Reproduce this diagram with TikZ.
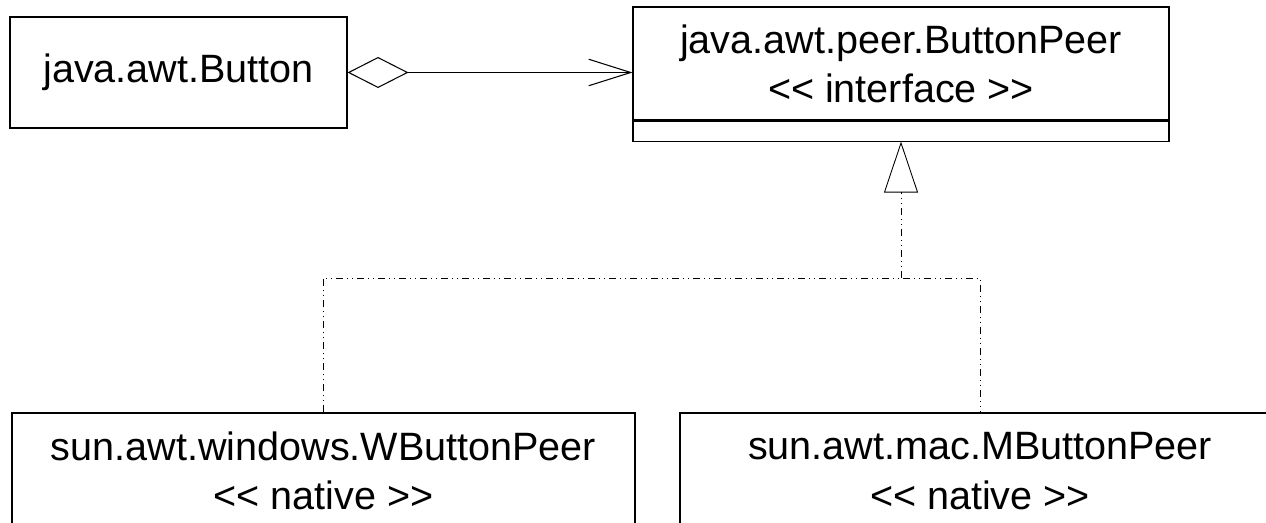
\documentclass[tikz,border=0pt]{standalone}
\usepackage{fontspec}
\setmainfont{Liberation Sans}
\usetikzlibrary{positioning,arrows.meta}

\begin{document}
\begin{tikzpicture}[
    cls/.style={rectangle, draw, line width=0.6pt, align=center, inner sep=0pt, font=\fontsize{22.5}{28}\selectfont},
    aggr/.style={line width=0.6pt, {Diamond[open, length=1.22cm, width=0.62cm]}-{Straight Barb[length=0.84cm, width=0.53cm]}},
    realize/.style={line width=0.5pt, dash pattern=on 0.14cm off 0.08cm on 0.02cm off 0.08cm on 0.02cm off 0.08cm}
]
    \useasboundingbox (0,0) rectangle (25.32,-10.46);

    % Button
    \node[cls, minimum width=6.74cm, minimum height=2.22cm] (button) at (3.57,-1.45) {java.awt.Button};

    % ButtonPeer interface
    \node[cls, minimum width=10.72cm, minimum height=2.26cm] (peer) at (18.02,-1.27) {java.awt.peer.ButtonPeer\\<{}< interface >{}>};
    \node[cls, minimum width=10.72cm, minimum height=0.4cm, below=0cm of peer] (peerops) {};

    % native peers
    \node[cls, minimum width=12.46cm, minimum height=2.32cm] (winpeer) at (6.47,-9.42) {sun.awt.windows.WButtonPeer\\<{}< native >{}>};
    \node[cls, minimum width=12.0cm, minimum height=2.32cm] (macpeer) at (19.6,-9.42) {sun.awt.mac.MButtonPeer\\<{}< native >{}>};

    % aggregation
    \draw[aggr] (button.east) -- (button.east -| peer.west);

    % realization
    \coordinate (jn) at ([yshift=-2.73cm]peerops.south);
    \draw[realize] (winpeer.north) |- (jn) -| (macpeer.north);
    \draw[realize, -{Triangle[open, length=1.02cm, width=0.68cm]}] (jn) -- (peerops.south);
\end{tikzpicture}
\end{document}
